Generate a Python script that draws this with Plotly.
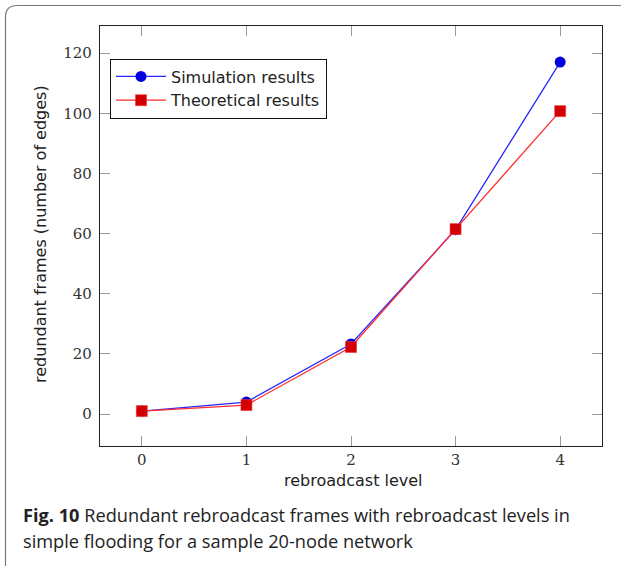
import plotly.graph_objects as go

# Redundant frames per rebroadcast level (20-node network, simple flooding)
levels = [0, 1, 2, 3, 4]
simulation = [1.0, 4.0, 23.3, 61.3, 117.0]
theoretical = [1.0, 3.0, 22.3, 61.5, 100.7]

x_ticks = [0, 1, 2, 3, 4]
y_ticks = [0, 20, 40, 60, 80, 100, 120]

W, H = 621, 566
L, R, T, B = 100, 19, 26, 120
pw, ph = W - L - R, H - T - B

SERIF = "DejaVu Serif"
SANS = "DejaVu Sans"
CAPTION = "Open Sans"


def px(x):
    return (x - L) / pw


def py(y):
    return (H - B - y) / ph


fig = go.Figure()
fig.add_trace(go.Scatter(
    x=levels, y=simulation, name="Simulation results", mode="lines+markers",
    line=dict(color="rgb(40,40,255)", width=1.3),
    marker=dict(symbol="circle", size=11, color="rgb(0,0,225)",
                line=dict(width=0)),
    legendgroup="a",
))
fig.add_trace(go.Scatter(
    x=levels, y=theoretical, name="Theoretical results", mode="lines+markers",
    line=dict(color="rgb(255,45,45)", width=1.3),
    marker=dict(symbol="square", size=11, color="rgb(210,0,0)",
                line=dict(width=0.6, color="rgb(235,60,60)")),
    legendgroup="b",
))

tick_font = dict(family=SERIF, size=15, color="#333")
axis_common = dict(
    showgrid=False, zeroline=False, showline=True, linecolor="#222",
    linewidth=1.2, mirror="ticks", ticks="inside", ticklen=10,
    tickcolor="#999", tickwidth=1.2,
)

fig.update_xaxes(range=[-0.4, 4.4], tickvals=x_ticks, ticklabelstandoff=0,
                 tickfont=tick_font, **axis_common)
fig.update_yaxes(range=[-10.6, 129.0], tickvals=y_ticks, ticklabelstandoff=4,
                 tickfont=tick_font, **axis_common)

title_font = dict(family=SANS, size=16, color="#222")
caption_font = dict(family=CAPTION, size=18.2, color="#222")

fig.update_layout(
    width=W, height=H,
    margin=dict(l=L, r=R, t=T, b=B),
    paper_bgcolor="white", plot_bgcolor="white",
    showlegend=True,
    legend=dict(
        x=px(110), y=py(58.5), xanchor="left", yanchor="top",
        bordercolor="#111", borderwidth=1, bgcolor="white",
        font=dict(family=SANS, size=16, color="#222"),
        itemwidth=50, tracegroupgap=14, traceorder="normal",
    ),
    annotations=[
        dict(text="rebroadcast level", xref="paper", yref="paper",
             x=px(353), y=py(481), xanchor="center", yanchor="middle",
             showarrow=False, font=title_font),
        dict(text="redundant frames (number of edges)", xref="paper",
             yref="paper", x=px(40), y=py(234), textangle=-90,
             xanchor="center", yanchor="middle",
             showarrow=False, font=title_font),
        dict(text="<b>Fig. 10</b> Redundant rebroadcast frames with rebroadcast levels in",
             xref="paper", yref="paper", x=px(21), y=py(515),
             xanchor="left", yanchor="middle", showarrow=False,
             font=caption_font),
        dict(text="simple flooding for a sample 20-node network",
             xref="paper", yref="paper", x=px(21), y=py(541),
             xanchor="left", yanchor="middle", showarrow=False,
             font=caption_font),
    ],
    shapes=[
        dict(type="path", xref="paper", yref="paper",
             path=(f"M {px(5.5)},{py(640)} L {px(5.5)},{py(17)} "
                   f"Q {px(5.5)},{py(5.5)} {px(17)},{py(5.5)} "
                   f"L {px(700)},{py(5.5)}"),
             line=dict(color="#777", width=1.2)),
    ],
)

fig.write_html("out.html")
